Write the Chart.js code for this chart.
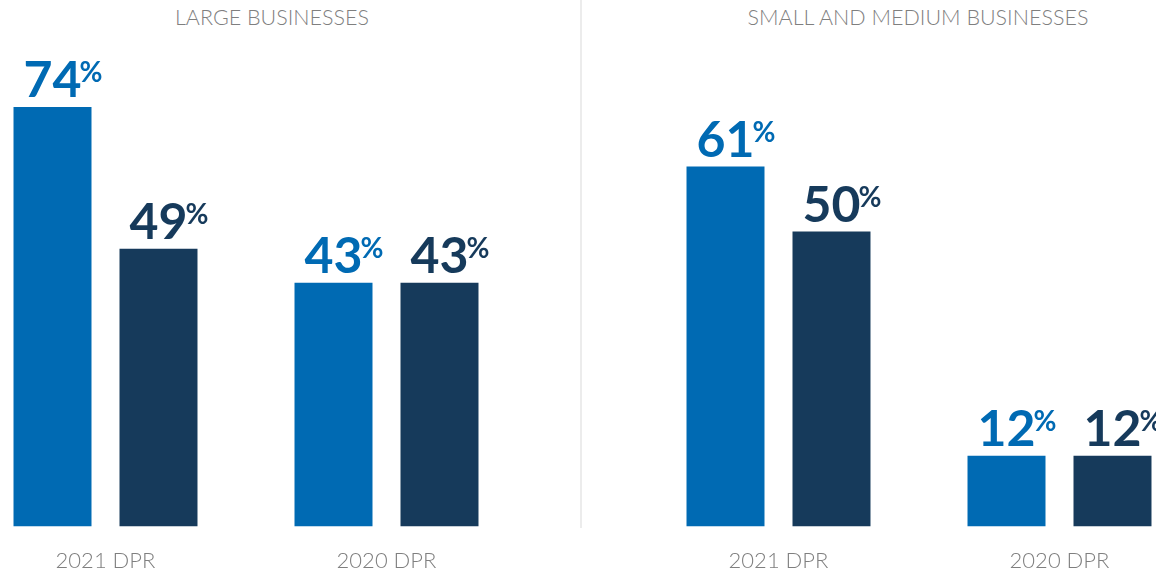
<!DOCTYPE html>
<html>
<head>
<meta charset="utf-8">
<script src="https://cdn.jsdelivr.net/npm/chart.js@4"></script>
<style>
  html, body { margin: 0; padding: 0; background: #fff; }
  body { width: 1156px; height: 573px; position: relative; overflow: hidden; font-family: Lato, sans-serif; }
  .panel { position: absolute; top: 0; width: 562px; height: 595px; }
  .title { position: absolute; top: 5px; font-size: 21.5px; font-weight: 300; color: #7f7f7f; line-height: 24px; white-space: nowrap; transform: translateX(-50%); }
  #divider { position: absolute; left: 580px; top: 0; width: 2px; height: 528px; background: #ececec; }
</style>
</head>
<body>
<div class="title" style="left:272px">LARGE BUSINESSES</div>
<div class="title" style="left:918px">SMALL AND MEDIUM BUSINESSES</div>
<div id="divider"></div>
<div class="panel" style="left:-35.5px"><canvas id="large" width="562" height="595"></canvas></div>
<div class="panel" style="left:637.5px"><canvas id="smb" width="562" height="595"></canvas></div>
<script>
// values
const categories = ['2021 DPR', '2020 DPR'];
const largeBlue = [74, 43];
const largeNavy = [49, 43];
const smbBlue = [61, 12];
const smbNavy = [50, 12];

const blue = '#006ab3';
const navy = '#163a5b';

// big number + small "%" above each bar
const pctLabels = {
    id: 'pctLabels',
    afterDatasetsDraw(chart) {
        const ctx = chart.ctx;
        ctx.save();
        chart.data.datasets.forEach(function (ds, i) {
            chart.getDatasetMeta(i).data.forEach(function (bar, j) {
                const txt = String(ds.data[j]);
                const base = bar.y - 10;
                ctx.fillStyle = ds.backgroundColor;
                ctx.textBaseline = 'alphabetic';
                ctx.font = '700 50px Lato';
                ctx.textAlign = 'center';
                ctx.fillText(txt, bar.x, base);
                const w = ctx.measureText(txt).width;
                ctx.font = '700 28px Lato';
                ctx.textAlign = 'left';
                ctx.fillText('%', bar.x + w / 2 - 2, base - 15);
            });
        });
        ctx.restore();
    }
};

function makeChart(id, blueVals, navyVals, yMax) {
    return new Chart(document.getElementById(id).getContext('2d'), {
        type: 'bar',
        data: {
            labels: categories,
            datasets: [
                { data: blueVals, backgroundColor: blue },
                { data: navyVals, backgroundColor: navy }
            ]
        },
        options: {
            responsive: false,
            animation: false,
            devicePixelRatio: 1,
            layout: { padding: { top: 48, bottom: 0, left: 0, right: 0 } },
            datasets: { bar: { categoryPercentage: 0.7544, barPercentage: 0.7358 } },
            plugins: { legend: { display: false }, tooltip: { enabled: false } },
            scales: {
                x: {
                    grid: { display: false, drawTicks: false },
                    border: { display: false },
                    ticks: {
                        color: '#7f7f7f',
                        padding: 21,
                        font: { family: 'Lato', size: 22, weight: 300, lineHeight: 1.2 }
                    }
                },
                y: { display: false, min: 0, max: yMax }
            }
        },
        plugins: [pctLabels]
    });
}

makeChart('large', largeBlue, largeNavy, 84.4);
makeChart('smb', smbBlue, smbNavy, 81.1);
</script>
</body>
</html>
